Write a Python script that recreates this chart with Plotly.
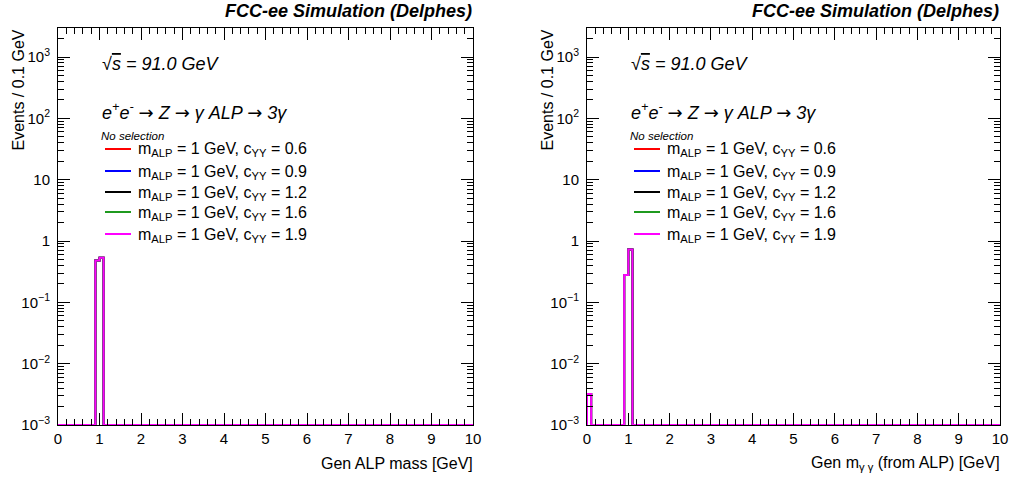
import plotly.graph_objects as go

# ---------------- data ----------------
bin_width = 0.1
x_min, x_max = 0.0, 10.0
coupling_labels = ["0.6", "0.9", "1.2", "1.6", "1.9"]
colors = ["#ff0000", "#0000ff", "#000000", "#1f9a1f", "#ff00ff"]

# Left panel: Gen ALP mass  (non-empty bins: lower edge -> content)
mass_bin_lo = [0.9, 1.0]
mass_c06 = [0.48, 0.535]
mass_c09 = [0.48, 0.535]
mass_c12 = [0.48, 0.535]
mass_c16 = [0.48, 0.535]
mass_c19 = [0.48, 0.535]

# Right panel: Gen m_gg (from ALP)
mgg_bin_lo = [0.0, 0.9, 1.0]
mgg_c06 = [0.0032, 0.28, 0.73]
mgg_c09 = [0.0032, 0.28, 0.73]
mgg_c12 = [0.0032, 0.28, 0.73]
mgg_c16 = [0.0032, 0.28, 0.73]
mgg_c19 = [0.0032, 0.28, 0.73]

y_floor = 1e-3
y_top_log = 3.473

W, H = 1010, 479
FONT = "Liberation Sans, Arial, sans-serif"


def step_xy(bin_lo, vals):
    n = int(round((x_max - x_min) / bin_width))
    counts = [0.0] * n
    for b, v in zip(bin_lo, vals):
        counts[int(round((b - x_min) / bin_width))] = v
    ys = [max(c, y_floor) for c in counts]
    xs = [x_min] + [x_min + i * bin_width for i in range(n)] + [x_max]
    ys = [y_floor] + ys + [ys[-1]]
    return xs, ys


fig = go.Figure()
left_sets = [mass_c06, mass_c09, mass_c12, mass_c16, mass_c19]
right_sets = [mgg_c06, mgg_c09, mgg_c12, mgg_c16, mgg_c19]
for i, (vals, col) in enumerate(zip(left_sets, colors)):
    xs, ys = step_xy(mass_bin_lo, vals)
    fig.add_trace(go.Scatter(x=xs, y=ys, mode="lines", line=dict(color=col, width=2, shape="hv"),
                             xaxis="x", yaxis="y", showlegend=False, hoverinfo="skip"))
for i, (vals, col) in enumerate(zip(right_sets, colors)):
    xs, ys = step_xy(mgg_bin_lo, vals)
    fig.add_trace(go.Scatter(x=xs, y=ys, mode="lines", line=dict(color=col, width=2, shape="hv"),
                             xaxis="x2", yaxis="y2", showlegend=False, hoverinfo="skip"))

# pixel geometry of panels
panels = [(58, 473), (587, 1000)]
y_top_px, y_bot_px = 28, 425


def px(x):
    return x / W


def py(y):
    return 1 - y / H


maj_y = [10.0 ** k for k in range(-3, 4)]
maj_y_txt = ["10<sup>\u22123</sup>", "10<sup>\u22122</sup>", "10<sup>\u22121</sup>", "1", "10",
             "10<sup>2</sup>", "10<sup>3</sup>"]
min_y = [m * 10.0 ** k for k in range(-3, 4) for m in range(2, 10)]

xaxis_common = dict(
    range=[x_min, x_max], tickmode="linear", tick0=0, dtick=1, automargin=False,
    ticks="inside", ticklen=12, tickwidth=1, tickcolor="black",
    showline=True, linecolor="black", linewidth=1, mirror="ticks",
    showgrid=False, zeroline=False,
    tickfont=dict(family=FONT, size=15, color="black"),
    minor=dict(tickmode="linear", tick0=0, dtick=0.2, ticks="inside", ticklen=6,
               tickcolor="black", tickwidth=1, showgrid=False),
)
yaxis_common = dict(
    type="log", range=[-3, y_top_log], tickmode="array", tickvals=maj_y, ticktext=maj_y_txt,
    automargin=False, ticklabelstandoff=4,
    ticks="inside", ticklen=12, tickwidth=1, tickcolor="black",
    showline=True, linecolor="black", linewidth=1, mirror="ticks",
    showgrid=False, zeroline=False,
    tickfont=dict(family=FONT, size=15, color="black"),
    minor=dict(tickmode="array", tickvals=min_y, ticks="inside", ticklen=6,
               tickcolor="black", tickwidth=1, showgrid=False),
)

fig.update_layout(
    width=W, height=H, margin=dict(l=0, r=0, t=0, b=0, autoexpand=False),
    paper_bgcolor="white", plot_bgcolor="white",
    xaxis=dict(domain=[px(panels[0][0]), px(panels[0][1])], anchor="y", **xaxis_common),
    yaxis=dict(domain=[py(y_bot_px), py(y_top_px)], anchor="x", **yaxis_common),
    xaxis2=dict(domain=[px(panels[1][0]), px(panels[1][1])], anchor="y2", **xaxis_common),
    yaxis2=dict(domain=[py(y_bot_px), py(y_top_px)], anchor="x2", **yaxis_common),
    showlegend=False,
)

x_titles = ["Gen ALP mass [GeV]", "Gen m<sub>\u03b3 \u03b3</sub> (from ALP) [GeV]"]
ARROW = "<span style='font-family:DejaVu Sans'>\u2192</span>"
annotations = []
shapes = []
for p, (x0, x1) in enumerate(panels):
    off = x0 - 58
    # header
    annotations.append(dict(text="<b><i>FCC-ee Simulation (Delphes)</i></b>", x=px(x1 + 1), y=py(11),
                            xref="paper", yref="paper", xanchor="right", yanchor="middle", showarrow=False,
                            font=dict(family=FONT, size=18, color="black")))
    # y title
    annotations.append(dict(text="Events / 0.1 GeV", x=px(x0 - 40), y=py(y_top_px),
                            xref="paper", yref="paper", xanchor="center", yanchor="top", textangle=-90,
                            showarrow=False, font=dict(family=FONT, size=16, color="black")))
    # x title
    annotations.append(dict(text=x_titles[p], x=px(x1 + 2), y=py(463),
                            xref="paper", yref="paper", xanchor="right", yanchor="middle", showarrow=False,
                            font=dict(family=FONT, size=16, color="black")))
    # sqrt s
    annotations.append(dict(text="<i>\u221a<span style='text-decoration:overline'>s</span> = 91.0 GeV</i>",
                            x=px(100 + off), y=py(64), xref="paper", yref="paper",
                            xanchor="left", yanchor="middle", showarrow=False,
                            font=dict(family=FONT, size=18, color="black")))
    annotations.append(dict(text=f"<i>e<sup>+</sup>e<sup>-</sup> {ARROW} Z {ARROW} \u03b3 ALP {ARROW} 3\u03b3</i>",
                            x=px(100 + off), y=py(111), xref="paper", yref="paper",
                            xanchor="left", yanchor="middle", showarrow=False,
                            font=dict(family=FONT, size=18, color="black")))
    annotations.append(dict(text="<i>No selection</i>",
                            x=px(99 + off), y=py(136), xref="paper", yref="paper",
                            xanchor="left", yanchor="middle", showarrow=False,
                            font=dict(family=FONT, size=11.5, color="black")))
    rows = [149, 171, 192, 212, 234]
    for r, (lab, col) in enumerate(zip(coupling_labels, colors)):
        yy = rows[r]
        shapes.append(dict(type="line", xref="paper", yref="paper", x0=px(105 + off), x1=px(131 + off),
                           y0=py(yy), y1=py(yy), line=dict(color=col, width=2)))
        annotations.append(dict(text=f"m<sub>ALP</sub> = 1 GeV, c<sub>YY</sub> = {lab}",
                                x=px(136 + off), y=py(yy + 1), xref="paper", yref="paper",
                                xanchor="left", yanchor="middle", showarrow=False,
                                font=dict(family=FONT, size=16, color="black")))

fig.update_layout(annotations=annotations, shapes=shapes)
fig.write_html("out.html", config={"displayModeBar": False},
               post_script="document.body.style.margin='0px';document.body.style.overflow='hidden';")
